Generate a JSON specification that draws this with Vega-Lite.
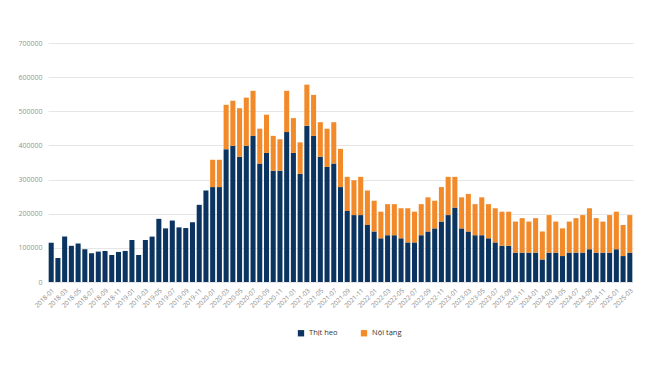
{
  "$schema": "https://vega.github.io/schema/vega-lite/v6.json",
  "width": 585,
  "height": 239,
  "autosize": {"type": "none"},
  "padding": {"left": 48, "top": 43, "right": 17, "bottom": 84},
  "background": "#ffffff",
  "config": {"view": {"stroke": null}, "font": "Open Sans"},
  "data": {"values": [
    {"m":"2018-01","heo":115000,"noi":0},
    {"m":"2018-02","heo":70000,"noi":0},
    {"m":"2018-03","heo":133000,"noi":0},
    {"m":"2018-04","heo":106000,"noi":0},
    {"m":"2018-05","heo":113000,"noi":0},
    {"m":"2018-06","heo":96000,"noi":0},
    {"m":"2018-07","heo":84000,"noi":0},
    {"m":"2018-08","heo":89000,"noi":0},
    {"m":"2018-09","heo":91000,"noi":0},
    {"m":"2018-10","heo":79000,"noi":0},
    {"m":"2018-11","heo":88000,"noi":0},
    {"m":"2018-12","heo":91000,"noi":0},
    {"m":"2019-01","heo":123000,"noi":0},
    {"m":"2019-02","heo":79000,"noi":0},
    {"m":"2019-03","heo":123000,"noi":0},
    {"m":"2019-04","heo":133000,"noi":0},
    {"m":"2019-05","heo":185000,"noi":0},
    {"m":"2019-06","heo":157000,"noi":0},
    {"m":"2019-07","heo":180000,"noi":0},
    {"m":"2019-08","heo":160000,"noi":0},
    {"m":"2019-09","heo":158000,"noi":0},
    {"m":"2019-10","heo":175000,"noi":0},
    {"m":"2019-11","heo":226000,"noi":0},
    {"m":"2019-12","heo":268000,"noi":0},
    {"m":"2020-01","heo":278000,"noi":80000},
    {"m":"2020-02","heo":278000,"noi":80000},
    {"m":"2020-03","heo":389000,"noi":130000},
    {"m":"2020-04","heo":399000,"noi":132000},
    {"m":"2020-05","heo":367000,"noi":142000},
    {"m":"2020-06","heo":399000,"noi":141000},
    {"m":"2020-07","heo":428000,"noi":132000},
    {"m":"2020-08","heo":347000,"noi":102000},
    {"m":"2020-09","heo":378000,"noi":112000},
    {"m":"2020-10","heo":326000,"noi":102000},
    {"m":"2020-11","heo":326000,"noi":92000},
    {"m":"2020-12","heo":439000,"noi":121000},
    {"m":"2021-01","heo":378000,"noi":102000},
    {"m":"2021-02","heo":317000,"noi":92000},
    {"m":"2021-03","heo":458000,"noi":120000},
    {"m":"2021-04","heo":428000,"noi":120000},
    {"m":"2021-05","heo":367000,"noi":101000},
    {"m":"2021-06","heo":337000,"noi":112000},
    {"m":"2021-07","heo":347000,"noi":121000},
    {"m":"2021-08","heo":278000,"noi":112000},
    {"m":"2021-09","heo":208000,"noi":100000},
    {"m":"2021-10","heo":196000,"noi":102000},
    {"m":"2021-11","heo":196000,"noi":112000},
    {"m":"2021-12","heo":167000,"noi":101000},
    {"m":"2022-01","heo":148000,"noi":90000},
    {"m":"2022-02","heo":128000,"noi":78000},
    {"m":"2022-03","heo":137000,"noi":91000},
    {"m":"2022-04","heo":137000,"noi":91000},
    {"m":"2022-05","heo":128000,"noi":88000},
    {"m":"2022-06","heo":116000,"noi":100000},
    {"m":"2022-07","heo":116000,"noi":90000},
    {"m":"2022-08","heo":137000,"noi":91000},
    {"m":"2022-09","heo":148000,"noi":100000},
    {"m":"2022-10","heo":157000,"noi":81000},
    {"m":"2022-11","heo":177000,"noi":101000},
    {"m":"2022-12","heo":196000,"noi":112000},
    {"m":"2023-01","heo":218000,"noi":90000},
    {"m":"2023-02","heo":157000,"noi":91000},
    {"m":"2023-03","heo":148000,"noi":110000},
    {"m":"2023-04","heo":137000,"noi":91000},
    {"m":"2023-05","heo":137000,"noi":111000},
    {"m":"2023-06","heo":128000,"noi":100000},
    {"m":"2023-07","heo":116000,"noi":100000},
    {"m":"2023-08","heo":106000,"noi":100000},
    {"m":"2023-09","heo":106000,"noi":100000},
    {"m":"2023-10","heo":86000,"noi":91000},
    {"m":"2023-11","heo":86000,"noi":101000},
    {"m":"2023-12","heo":86000,"noi":91000},
    {"m":"2024-01","heo":86000,"noi":101000},
    {"m":"2024-02","heo":66000,"noi":82000},
    {"m":"2024-03","heo":86000,"noi":110000},
    {"m":"2024-04","heo":86000,"noi":91000},
    {"m":"2024-05","heo":76000,"noi":81000},
    {"m":"2024-06","heo":86000,"noi":91000},
    {"m":"2024-07","heo":86000,"noi":101000},
    {"m":"2024-08","heo":86000,"noi":110000},
    {"m":"2024-09","heo":96000,"noi":120000},
    {"m":"2024-10","heo":86000,"noi":101000},
    {"m":"2024-11","heo":86000,"noi":91000},
    {"m":"2024-12","heo":86000,"noi":110000},
    {"m":"2025-01","heo":96000,"noi":110000},
    {"m":"2025-02","heo":76000,"noi":91000},
    {"m":"2025-03","heo":86000,"noi":110000}
  ]},
  "transform": [
    {"fold": ["heo", "noi"], "as": ["k", "v"]},
    {"lookup": "k", "from": {"data": {"values": [{"k":"heo","type":"Thịt heo"},{"k":"noi","type":"Nội tạng"}]}, "key": "k", "fields": ["type"]}}
  ],
  "mark": {"type": "bar"},
  "encoding": {
    "x": {
      "field": "m", "type": "ordinal", "title": null,
      "scale": {"paddingInner": 0.25, "paddingOuter": 0.1},
      "axis": {
        "labelAngle": -45, "labelFontSize": 6.5, "labelColor": "#8a8a8a",
        "labelOverlap": false, "ticks": false, "domain": false, "labelPadding": 5,
        "labelExpr": "toNumber(substring(datum.value,5,7)) % 2 == 1 ? datum.value : ''"
      }
    },
    "y": {
      "field": "v", "type": "quantitative", "aggregate": "sum", "title": null,
      "scale": {"domain": [0, 700000], "nice": false},
      "axis": {
        "values": [0,100000,200000,300000,400000,500000,600000,700000],
        "labelFontSize": 7, "labelColor": "#939393", "format": "d",
        "domain": false, "ticks": false, "labelPadding": 6,
        "gridColor": "#e6e6e6", "gridWidth": 1
      }
    },
    "color": {
      "field": "type", "type": "nominal", "title": null,
      "scale": {"domain": ["Thịt heo", "Nội tạng"], "range": ["#0b3560", "#f28a2a"]},
      "legend": {
        "orient": "none", "direction": "horizontal", "legendX": 249, "legendY": 286,
        "symbolType": "square", "symbolSize": 40, "labelFontSize": 7.5,
        "labelColor": "#333333", "columnPadding": 22
      }
    },
    "order": {"field": "type", "sort": "descending"}
  }
}
